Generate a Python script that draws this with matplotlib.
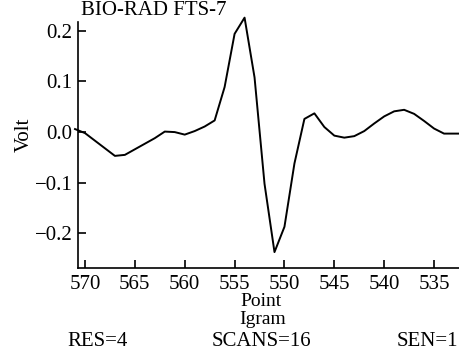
import matplotlib
matplotlib.use('Agg')
import matplotlib.pyplot as plt
import numpy as np

# interferogram points
point = [571, 570, 569, 568, 567, 566, 565, 564, 563, 562, 561, 560, 559, 558,
         557, 556, 555, 554, 553, 552, 551, 550, 549, 548, 547, 546, 545, 544,
         543, 542, 541, 540, 539, 538, 537, 536, 535, 534, 533, 532]
volt = [0.006, -0.002, -0.017, -0.032, -0.047, -0.045, -0.034, -0.023, -0.012, 0.001,
        0.000, -0.005, 0.002, 0.011, 0.023, 0.089, 0.194, 0.226, 0.108, -0.102,
        -0.237, -0.187, -0.062, 0.026, 0.037, 0.010, -0.007, -0.011, -0.008, 0.002,
        0.017, 0.031, 0.041, 0.044, 0.036, 0.022, 0.007, -0.003, -0.003, -0.003]
xticks = [570, 565, 560, 555, 550, 545, 540, 535]
yticks = [-0.2, -0.1, 0.0, 0.1, 0.2]

plt.rcParams['font.family'] = ['Liberation Serif', 'DejaVu Serif']
fs = 15

W, H = 460, 353
fig = plt.figure(figsize=(W / 100, H / 100), dpi=100)
ax = fig.add_axes([78 / W, 1 - 268.3 / H, (460 - 78) / W, (268.3 - 21.7) / H])

ax.plot(point, volt, color='black', lw=1.4, clip_on=False)
ax.set_xlim(570.7, 532.4)
ax.set_ylim(-0.269, 0.218)
ax.set_xticks(xticks)
ax.set_yticks(yticks)
ax.set_yticklabels(['\u2212%.1f' % -v if v < 0 else '%.1f' % v for v in yticks])
ax.tick_params(direction='in', length=6, width=1.2, labelsize=fs)
ax.tick_params(axis='y', pad=4)
ax.tick_params(axis='x', pad=5)
for s in ['top', 'right']:
    ax.spines[s].set_visible(False)
for s in ['left', 'bottom']:
    ax.spines[s].set_linewidth(1.2)

fig.text(81 / W, 1 - 1 / H, 'BIO-RAD FTS-7', ha='left', va='top', fontsize=fs)
fig.text(24 / W, 1 - 135 / H, 'Volt', rotation=90, ha='center', va='center', fontsize=fs)
fig.text(261 / W, 1 - 301 / H, 'Point', ha='center', va='center', fontsize=14)
fig.text(263 / W, 1 - 320 / H, 'Igram', ha='center', va='center', fontsize=14)
fig.text(98 / W, 1 - 342 / H, 'RES=4', ha='center', va='center', fontsize=fs)
fig.text(261 / W, 1 - 342 / H, 'SCANS=16', ha='center', va='center', fontsize=fs)
fig.text(427 / W, 1 - 342 / H, 'SEN=1', ha='center', va='center', fontsize=fs)

fig.savefig('out.png', dpi=100)
